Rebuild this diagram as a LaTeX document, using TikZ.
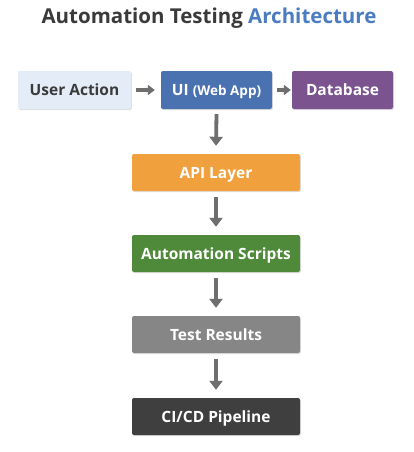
\documentclass[tikz,border=0pt]{standalone}
\usepackage{fontspec}
\setmainfont{Open Sans}
\usetikzlibrary{arrows.meta,shadows}
\definecolor{ttl}{HTML}{3A3A3A}
\definecolor{archblue}{HTML}{4A7CC0}
\definecolor{ualight}{HTML}{E4ECF7}
\definecolor{uitext}{HTML}{3A3A3A}
\definecolor{uiblue}{HTML}{4A72B0}
\definecolor{dbpurple}{HTML}{7B548F}
\definecolor{apiorange}{HTML}{F0A03C}
\definecolor{autogreen}{HTML}{4E8A3A}
\definecolor{testgrey}{HTML}{868686}
\definecolor{cidark}{HTML}{3F3F3F}
\definecolor{arrowgrey}{HTML}{6E6E6E}
\tikzset{
  box/.style={rounded corners=2pt, inner sep=0pt, font=\bfseries\fontsize{15.5}{18}\selectfont,
    text height=11pt, text depth=0pt,
    text=white, drop shadow={shadow xshift=0.8pt, shadow yshift=-1.2pt, opacity=0.25}},
  flowarrow/.style={draw=arrowgrey, line width=3.8pt, -{Triangle[length=9pt,width=13pt]}},
  sidearrow/.style={draw=arrowgrey, line width=3.2pt, -{Triangle[length=7pt,width=10pt]}}
}
\begin{document}
\begin{tikzpicture}[x=1pt,y=-1pt]
\useasboundingbox[fill=white] (0,0) rectangle (413,452);
\node[font=\bfseries\fontsize{20.5}{24}\selectfont, text=ttl] (title) at (209,18.5)
  {Automation Testing \textcolor{archblue}{Architecture}};
\node[box, fill=ualight, text=uitext, minimum width=113pt, minimum height=38pt] (ua) at (74.5,90) {User Action};
\node[box, fill=uiblue, minimum width=111pt, minimum height=38pt] (ui) at (216.5,90) {UI {\fontsize{13.5}{16}\selectfont(Web App)}};
\node[box, fill=dbpurple, minimum width=101pt, minimum height=38pt] (db) at (342.5,90) {Database};
\node[box, fill=apiorange, minimum width=168pt, minimum height=37pt] (api) at (216,172.5) {API Layer};
\node[box, fill=autogreen, minimum width=168pt, minimum height=37pt] (auto) at (216,253.5) {Automation Scripts};
\node[box, fill=testgrey, minimum width=168pt, minimum height=37pt] (test) at (216,334.5) {Test Results};
\node[box, fill=cidark, minimum width=168pt, minimum height=37pt] (ci) at (216,416.5) {CI/CD Pipeline};
\draw[sidearrow] ([xshift=5pt]ua.east) -- ([xshift=-6pt]ui.west);
\draw[sidearrow] ([xshift=5pt]ui.east) -- ([xshift=-1pt]db.west);
\draw[flowarrow] ([yshift=-5pt]ui.south) -- ([yshift=8pt]api.north);
\draw[flowarrow] ([yshift=-6pt]api.south) -- ([yshift=8pt]auto.north);
\draw[flowarrow] ([yshift=-6pt]auto.south) -- ([yshift=8pt]test.north);
\draw[flowarrow] ([yshift=-6pt]test.south) -- ([yshift=8pt]ci.north);
\end{tikzpicture}
\end{document}
